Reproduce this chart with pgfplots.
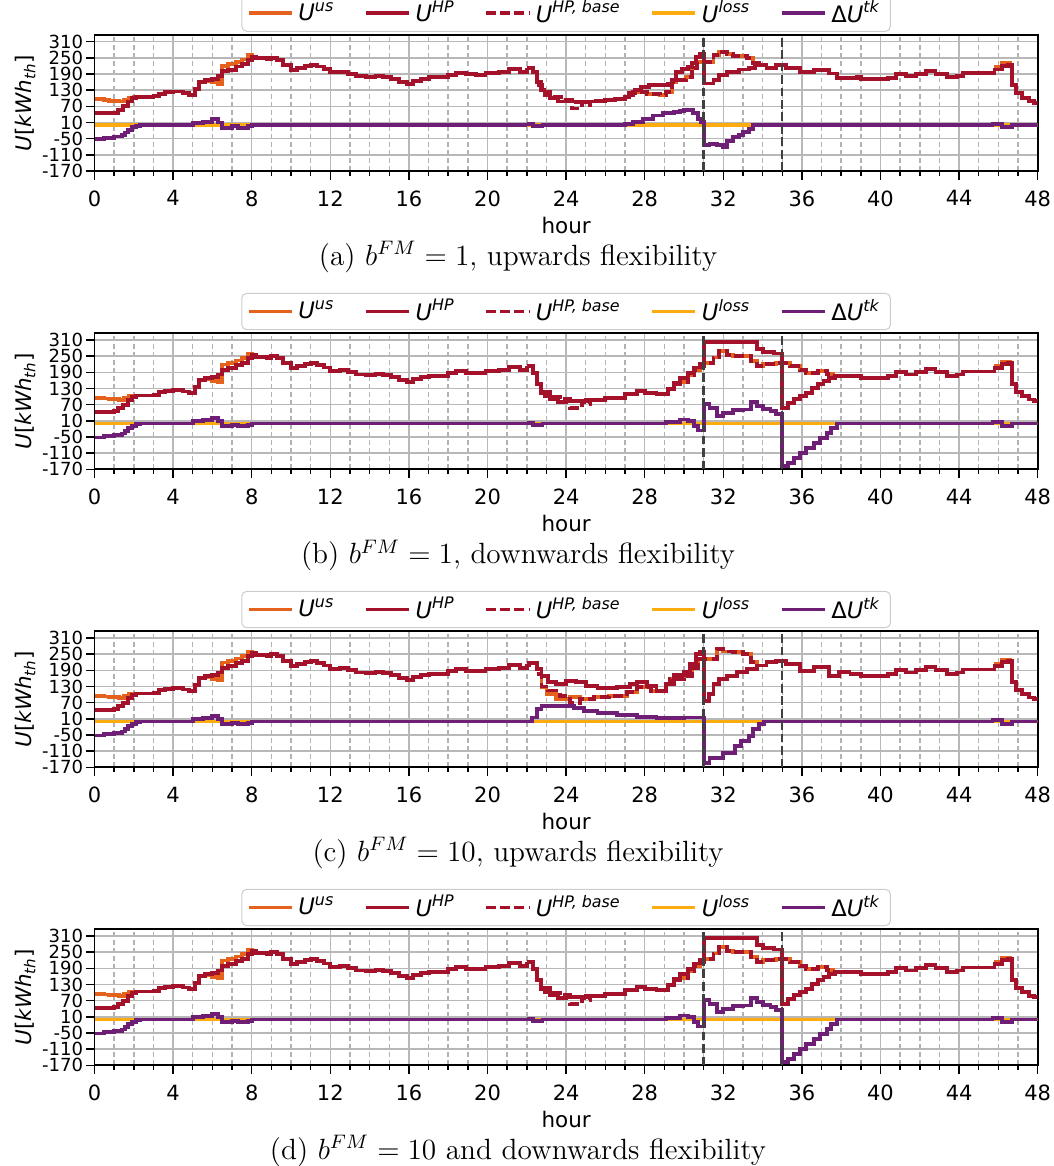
\documentclass[border=0pt]{standalone}
\usepackage{fontspec}
\setsansfont{DejaVu Sans}
\usepackage{pgfplots}
\usepackage{pgfplotstable}
\pgfplotsset{compat=1.18}

\definecolor{cUs}{HTML}{E4621B}
\definecolor{cHp}{HTML}{A3112A}
\definecolor{cLoss}{HTML}{FCAC0E}
\definecolor{cDtk}{HTML}{6E1F75}

\newcommand{\lU}[1]{\textit{U}\textsuperscript{\textit{#1}}}
\def\lw{1.6pt}

% ---------------- common data ----------------
\pgfplotstableread{
t v
0 44
1.0 47
1.2 56
1.45 70
1.7 88
1.9 100
2.1 104
3.0 107
3.3 116
3.6 122
4.0 125
4.5 119
4.8 113
5.1 134
5.3 160
5.6 168
6.0 173
6.3 182
6.5 200
6.8 206
7.2 218
7.5 226
7.8 242
8.0 254
8.2 248
8.8 244
9.0 250
9.3 242
9.6 224
10.0 206
10.3 212
10.7 220
11.0 224
11.3 218
11.7 208
12.0 196
12.5 198
12.9 191
13.3 182
13.8 179
14.3 184
14.7 180
15.1 172
15.5 161
15.9 154
16.2 164
16.6 173
17.0 178
17.5 178
18.0 188
18.4 195
18.9 189
19.4 188
19.9 194
20.6 198
21.1 210
21.66 198
22.0 213
}\tHpCommon

\pgfplotstableread{
t v
0 96
0.5 93
0.75 90
1.25 88
1.5 94
1.75 101
2.0 104
2.2 104
}\tUsStart

\pgfplotstableread{
t v
5.3 160
5.6 164
6.0 159
6.3 154
6.5 219
6.8 226
7.2 234
7.5 244
7.8 260
8.0 254
8.1 254
}\tUsMid

\pgfplotstableread{
t v
0 -52
0.5 -47
1.0 -42
1.4 -37
1.55 -27
1.7 -17
1.9 -8
2.1 -3
2.3 0
5.0 8
5.5 12
6.0 22
6.3 10
6.5 -10
7.0 -4
7.3 -10
7.8 -4
8.0 0
22.0 0
}\tDtkCommon

\pgfplotstableread{
t v
38.4 175
38.8 178
39.0 170
40.4 175
40.8 190
41.3 182
41.8 190
42.3 201
42.8 190
43.4 178
43.9 182
44.2 193
45.5 193
45.8 207
46.2 220
46.5 225
46.7 148
46.9 118
47.2 101
47.55 89
47.8 83
48.0 83
}\tHpEnd

\pgfplotstableread{
t v
45.8 215
46.2 230
46.6 225
46.7 225
}\tUsEnd

\pgfplotstableread{
t v
38.4 0
45.7 4
46.2 -8
46.7 0
48.0 0
}\tDtkEnd

\pgfplotstableread{
t v
0 0
48 0
}\tLoss

% ---------------- panel (a) ----------------
\pgfplotstableread{
t v
22.0 213
22.3 198
22.5 160
22.7 130
22.9 112
23.2 100
23.6 88
24.5 86
25.0 88
25.5 90
26.0 94
26.5 98
27.0 104
27.2 118
27.5 130
27.8 142
28.2 148
28.7 150
29.2 155
29.4 168
29.6 196
29.9 210
30.2 215
30.4 232
30.6 254
30.8 266
31.0 155
31.5 167
31.8 186
32.2 198
32.8 207
33.3 214
33.6 222
34.2 214
34.7 225
35.2 214
35.9 198
36.6 204
37.4 192
37.8 175
38.4 175
}\tHpA

\pgfplotstableread{
t v
27.2 112
27.4 124
28.1 117
28.8 111
29.1 124
29.4 161
29.6 167
30.1 179
30.4 211
30.65 236
31.5 260
31.8 273
32.2 264
32.5 257
33.2 248
33.5 232
33.8 222
33.9 222
}\tUsA

\pgfplotstableread{
t v
22.5 150
22.8 125
23.2 105
23.9 92
24.3 62
24.8 86
25.0 74
25.2 88
25.3 88
}\tBaseA

\pgfplotstableread{
t v
22.0 3
22.3 -4
22.8 0
27.0 6
27.4 12
27.9 24
28.4 36
28.95 45
29.5 50
29.8 52
30.0 57
30.45 45
30.7 24
30.85 12
31.0 -75
31.3 -69
31.7 -75
32.0 -82
32.2 -57
32.5 -45
32.8 -38
33.0 -26
33.3 -13
33.5 0
38.4 0
}\tDtkA

% ---------------- panels (b) and (d) ----------------
\pgfplotstableread{
t v
22.0 212
22.3 189
22.5 146
22.7 114
22.9 102
23.2 90
23.6 80
24.0 83
25.0 86
26.0 96
27.0 108
27.6 120
28.0 114
28.6 108
29.2 127
29.5 152
29.8 170
30.2 189
30.5 208
30.8 220
31.0 304
33.7 276
34.0 267
34.6 260
35.0 58
35.3 77
35.6 90
35.9 102
36.2 114
36.5 133
36.8 146
37.1 158
37.4 170
37.7 177
38.4 175
}\tHpB

\pgfplotstableread{
t v
29.5 145
29.8 155
30.2 180
30.5 200
30.8 215
31.0 226
31.5 245
31.8 270
32.2 256
32.5 251
33.4 233
33.7 214
34.0 220
34.7 224
35.4 214
35.9 198
36.2 189
36.8 195
37.3 183
37.6 177
37.7 177
}\tUsB

\pgfplotstableread{
t v
22.8 118
23.2 100
23.8 90
24.2 58
24.8 80
25.0 72
25.2 86
25.3 86
}\tBaseB

\pgfplotstableread{
t v
22.0 3
22.3 -4
22.8 0
29.1 6
29.8 15
30.2 9
30.5 -10
30.7 -26
31.0 73
31.3 58
31.7 27
32.0 40
32.5 49
33.0 52
33.4 80
33.7 65
34.0 55
34.4 46
34.7 36
35.0 -159
35.3 -147
35.6 -129
35.9 -110
36.2 -91
36.6 -72
36.9 -54
37.3 -35
37.5 -16
37.8 0
38.4 0
}\tDtkB

% ---------------- panel (c) ----------------
\pgfplotstableread{
t v
22.0 210
22.1 216
22.5 195
22.75 170
23.1 146
23.5 139
24.0 152
24.5 146
25.0 133
25.6 123
26.6 127
27.25 139
27.6 146
28.1 133
28.6 114
29.1 139
29.5 173
30.0 183
30.3 214
30.6 251
30.8 258
31.0 77
31.25 102
31.5 139
31.8 158
32.2 170
32.7 183
33.2 195
33.7 208
34.2 220
34.7 226
35.2 214
35.9 189
36.6 202
37.4 170
37.9 183
38.4 175
}\tHpC

\pgfplotstableread{
t v
22.5 177
22.75 127
23.0 102
23.5 83
24.2 90
24.7 83
25.4 90
26.2 96
27.1 108
27.6 127
28.3 114
28.6 114
}\tUsCa

\pgfplotstableread{
t v
22.5 177
22.75 130
23.1 115
23.7 95
24.2 68
24.7 83
25.4 90
26.2 96
27.1 108
27.6 127
28.3 114
28.6 114
}\tBaseCa

\pgfplotstableread{
t v
29.1 139
29.3 158
30.0 170
30.4 200
30.7 233
31.7 270
32.0 260
32.5 258
33.0 251
33.4 220
33.7 208
33.8 208
}\tUsCb

\pgfplotstableread{
t v
22.0 0
22.25 15
22.5 46
22.75 58
23.2 56
24.0 58
24.4 50
24.9 40
25.6 31
26.6 24
27.6 17
28.6 12
30.0 15
31.0 -153
31.3 -134
32.0 -116
32.6 -91
32.9 -72
33.3 -54
33.5 -29
33.8 -10
34.05 0
38.4 0
}\tDtkC

\pgfplotsset{
  sUs/.style={cUs, line width=\lw, const plot, forget plot},
  sHp/.style={cHp, line width=\lw, const plot, forget plot},
  sBase/.style={cHp, line width=\lw, const plot, forget plot, dash pattern=on 4pt off 1.8pt},
  sLoss/.style={cLoss, line width=\lw, const plot, forget plot},
  sDtk/.style={cDtk, line width=\lw, const plot, forget plot},
  sVline/.style={black!75, line width=1pt, dash pattern=on 3.6pt off 1.5pt, forget plot},
  panel/.style={
    width=386.7pt, height=55.76pt, scale only axis,
    anchor=north west,
    xmin=0, xmax=48, ymin=-170, ymax=335,
    xtick={0,4,...,48}, minor x tick num=3,
    ytick={-170,-110,-50,10,70,130,190,250,310},
    yticklabels={-170,-110,-50,10,70,130,190,250,310},
    xticklabels={0,4,8,12,16,20,24,28,32,36,40,44,48},
    tick pos=left, tick align=outside,
    major tick length=3.5pt, minor tick length=2pt,
    every tick/.style={black, line width=0.6pt},
    axis line style={line width=0.7pt},
    xmajorgrids, ymajorgrids, xminorgrids,
    major grid style={black!28, line width=0.6pt},
    minor grid style={black!30, line width=0.6pt, dash pattern=on 2pt off 1.3pt},
    xticklabel style={font=\sffamily\fontsize{8.6}{9}\selectfont, yshift=-1pt},
    yticklabel style={font=\sffamily\fontsize{7.4}{7.4}\selectfont, inner ysep=0pt, inner xsep=1pt},
    xlabel={hour},
    ylabel={\textit{U}[\textit{kWh}\textsubscript{\textit{th}}]},
    label style={font=\sffamily\fontsize{8.8}{10}\selectfont},
    xlabel style={at={(axis description cs:0.5,-0.40)}, anchor=center},
    ylabel style={at={(axis description cs:-0.0735,0.5)}, anchor=center},
    legend columns=5,
    legend style={at={(0.5,1)}, anchor=south, yshift=1.3pt,
      draw=black!20, rounded corners=2pt, fill=white,
      font=\sffamily\fontsize{9.3}{10.5}\selectfont,
      inner xsep=2pt, inner ysep=0.3pt,
      /tikz/every even column/.append style={column sep=10pt}},
    legend cell align=left,
    legend image code/.code={\draw[##1] (0pt,0pt) -- (17.6pt,0pt);},
  }
}

\newcommand{\legendimgs}{%
  \addlegendimage{cUs, line width=\lw}\addlegendentry{\lU{us}}
  \addlegendimage{cHp, line width=\lw}\addlegendentry{\lU{HP}}
  \addlegendimage{cHp, line width=\lw, dash pattern=on 4pt off 1.8pt}\addlegendentry{\lU{HP, base}}
  \addlegendimage{cLoss, line width=\lw}\addlegendentry{\lU{loss}}
  \addlegendimage{cDtk, line width=\lw}\addlegendentry{Δ\lU{tk}}
}

\newcommand{\vlines}{%
  \addplot[sVline] coordinates {(31,-170) (31,335)};
  \addplot[sVline] coordinates {(35,-170) (35,335)};
}

\begin{document}
\begin{tikzpicture}
\useasboundingbox (0,0) rectangle (431.73pt,-478.06pt);

% (a)
\begin{axis}[panel, at={(38.75pt,-14.35pt)}]
\legendimgs
\addplot[sUs] table {\tUsStart};
\addplot[sUs] table {\tUsMid};
\addplot[sUs] table {\tUsA};
\addplot[sUs] table {\tUsEnd};
\addplot[sHp] table {\tHpCommon};
\addplot[sHp] table {\tHpA};
\addplot[sHp] table {\tHpEnd};
\addplot[sBase] table {\tBaseA};
\addplot[sBase] table {\tUsA};
\addplot[sLoss] table {\tLoss};
\addplot[sDtk] table {\tDtkCommon};
\addplot[sDtk] table {\tDtkA};
\addplot[sDtk] table {\tDtkEnd};
\vlines
\end{axis}

% (b)
\begin{axis}[panel, at={(38.75pt,-136.65pt)}]
\legendimgs
\addplot[sUs] table {\tUsStart};
\addplot[sUs] table {\tUsMid};
\addplot[sUs] table {\tUsB};
\addplot[sUs] table {\tUsEnd};
\addplot[sHp] table {\tHpCommon};
\addplot[sHp] table {\tHpB};
\addplot[sHp] table {\tHpEnd};
\addplot[sBase] table {\tBaseB};
\addplot[sBase] table {\tUsB};
\addplot[sLoss] table {\tLoss};
\addplot[sDtk] table {\tDtkCommon};
\addplot[sDtk] table {\tDtkB};
\addplot[sDtk] table {\tDtkEnd};
\vlines
\end{axis}

% (c)
\begin{axis}[panel, at={(38.75pt,-258.83pt)}]
\legendimgs
\addplot[sUs] table {\tUsStart};
\addplot[sUs] table {\tUsMid};
\addplot[sUs] table {\tUsCa};
\addplot[sUs] table {\tUsCb};
\addplot[sUs] table {\tUsEnd};
\addplot[sHp] table {\tHpCommon};
\addplot[sHp] table {\tHpC};
\addplot[sHp] table {\tHpEnd};
\addplot[sBase] table {\tBaseCa};
\addplot[sBase] table {\tUsCb};
\addplot[sLoss] table {\tLoss};
\addplot[sDtk] table {\tDtkCommon};
\addplot[sDtk] table {\tDtkC};
\addplot[sDtk] table {\tDtkEnd};
\vlines
\end{axis}

% (d)
\begin{axis}[panel, at={(38.75pt,-381.01pt)}]
\legendimgs
\addplot[sUs] table {\tUsStart};
\addplot[sUs] table {\tUsMid};
\addplot[sUs] table {\tUsB};
\addplot[sUs] table {\tUsEnd};
\addplot[sHp] table {\tHpCommon};
\addplot[sHp] table {\tHpB};
\addplot[sHp] table {\tHpEnd};
\addplot[sBase] table {\tBaseB};
\addplot[sBase] table {\tUsB};
\addplot[sLoss] table {\tLoss};
\addplot[sDtk] table {\tDtkCommon};
\addplot[sDtk] table {\tDtkB};
\addplot[sDtk] table {\tDtkEnd};
\vlines
\end{axis}

\node[font=\large, anchor=center] at (212.4pt,-105.4pt) {(a) $b^{FM}=1$, upwards flexibility};
\node[font=\large, anchor=center] at (212.4pt,-227.7pt) {(b) $b^{FM}=1$, downwards flexibility};
\node[font=\large, anchor=center] at (212.4pt,-349.8pt) {(c) $b^{FM}=10$, upwards flexibility};
\node[font=\large, anchor=center] at (212.4pt,-472.0pt) {(d) $b^{FM}=10$ and downwards flexibility};
\end{tikzpicture}
\end{document}
